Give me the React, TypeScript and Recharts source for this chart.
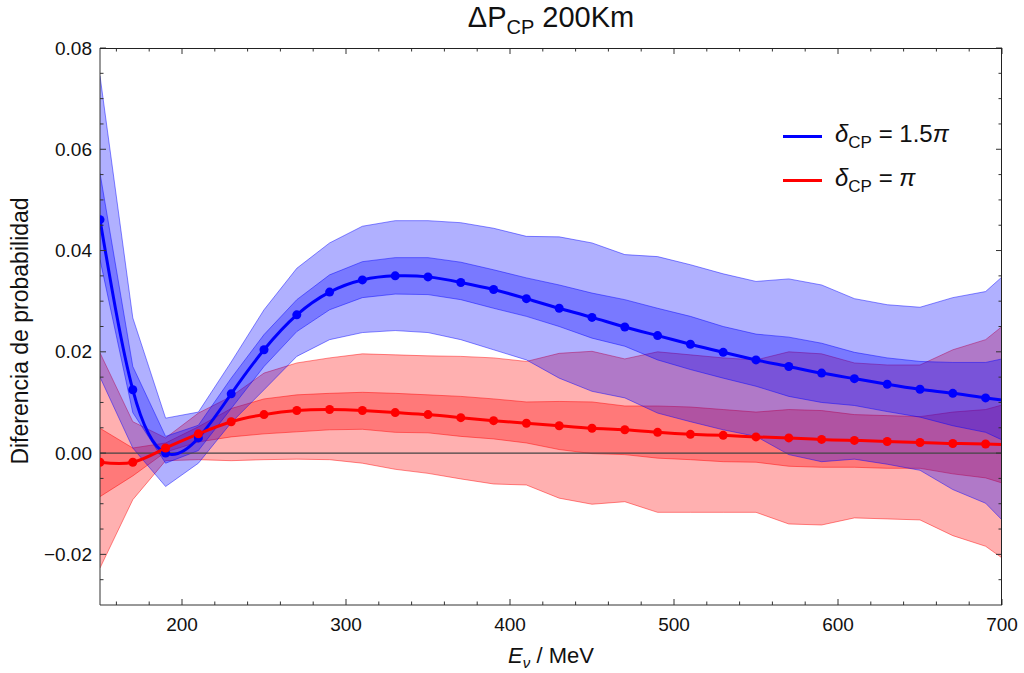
import React from "react";
import { ComposedChart, Area, Line, XAxis, YAxis, ReferenceLine } from "recharts";

// energies (MeV) where the curves / bands were sampled
const energy = [150, 170, 190, 210, 230, 250, 270, 290, 310, 330, 350, 370, 390, 410, 430, 450, 470, 490, 510, 530, 550, 570, 590, 610, 630, 650, 670, 690, 700];

// delta_CP = 1.5 pi
const blueMid = [0.0461, 0.0125, 0.0, 0.003, 0.0117, 0.0204, 0.0273, 0.0318, 0.0342, 0.035, 0.0348, 0.0337, 0.0323, 0.0305, 0.0286, 0.0268, 0.0249, 0.0232, 0.0215, 0.0199, 0.0184, 0.0171, 0.0158, 0.0147, 0.0136, 0.0126, 0.0118, 0.0109, 0.0105];
const blueInnerHi = [0.0553, 0.0171, 0.0033, 0.0055, 0.0148, 0.0234, 0.0303, 0.0352, 0.0378, 0.0386, 0.0386, 0.0377, 0.0362, 0.0346, 0.0332, 0.0316, 0.0303, 0.0286, 0.027, 0.025, 0.0235, 0.0229, 0.0217, 0.0199, 0.0188, 0.0181, 0.0179, 0.0179, 0.0186];
const blueInnerLo = [0.0382, 0.008, -0.002, 0.0005, 0.0088, 0.0171, 0.024, 0.0283, 0.0307, 0.0314, 0.0313, 0.0303, 0.0286, 0.027, 0.025, 0.0227, 0.0211, 0.0184, 0.0165, 0.0148, 0.0132, 0.0112, 0.01, 0.0094, 0.0082, 0.0071, 0.0054, 0.0041, 0.0026];
const blueOuterHi = [0.0745, 0.0267, 0.0069, 0.0081, 0.018, 0.0283, 0.0365, 0.0415, 0.0448, 0.0459, 0.0459, 0.0455, 0.0444, 0.0428, 0.0427, 0.0415, 0.0392, 0.0388, 0.0372, 0.0354, 0.0339, 0.0344, 0.0332, 0.0305, 0.0293, 0.0288, 0.0307, 0.0319, 0.0348];
const blueOuterLo = [0.015, 0.001, -0.0066, -0.002, 0.006, 0.0125, 0.0191, 0.0224, 0.0238, 0.0242, 0.0238, 0.0224, 0.0204, 0.0184, 0.0148, 0.0122, 0.0109, 0.0079, 0.0062, 0.0046, 0.0033, -0.0003, -0.0017, -0.0012, -0.0022, -0.0034, -0.0072, -0.0099, -0.0132];

// delta_CP = pi
const redMid = [-0.0018, -0.0018, 0.001, 0.0038, 0.0062, 0.0076, 0.0084, 0.0086, 0.0084, 0.008, 0.0076, 0.007, 0.0064, 0.0059, 0.0054, 0.0049, 0.0046, 0.0041, 0.0037, 0.0035, 0.0032, 0.003, 0.0027, 0.0025, 0.0023, 0.0021, 0.0019, 0.0018, 0.0017];
const redInnerHi = [0.0049, 0.001, 0.002, 0.0052, 0.0088, 0.0107, 0.0115, 0.0118, 0.012, 0.0118, 0.0115, 0.0112, 0.0107, 0.0101, 0.0102, 0.0101, 0.0093, 0.0093, 0.0091, 0.0086, 0.0081, 0.0086, 0.0084, 0.0076, 0.0074, 0.0072, 0.0081, 0.0086, 0.0095];
const redInnerLo = [-0.0086, -0.0045, 0.0002, 0.0022, 0.0032, 0.0038, 0.0042, 0.0046, 0.0047, 0.0041, 0.004, 0.0033, 0.0028, 0.002, 0.0007, -0.0001, -0.0003, -0.001, -0.0013, -0.0017, -0.0018, -0.0026, -0.0028, -0.0028, -0.003, -0.003, -0.0041, -0.0049, -0.0059];
const redOuterHi = [0.0198, 0.0062, 0.003, 0.0079, 0.0112, 0.0158, 0.0178, 0.0188, 0.0196, 0.0194, 0.0192, 0.0191, 0.0188, 0.0181, 0.0197, 0.0201, 0.0186, 0.02, 0.0194, 0.0188, 0.0184, 0.02, 0.0196, 0.0178, 0.0174, 0.0174, 0.0204, 0.0224, 0.025];
const redOuterLo = [-0.0227, -0.0092, -0.0015, -0.0013, -0.0015, -0.0013, -0.0012, -0.0013, -0.002, -0.0032, -0.004, -0.0051, -0.0061, -0.0063, -0.0089, -0.0101, -0.0096, -0.0117, -0.0117, -0.0117, -0.0117, -0.014, -0.0142, -0.0128, -0.013, -0.0132, -0.0163, -0.0184, -0.0207];

const xTicks = [160, 180, 200, 220, 240, 260, 280, 300, 320, 340, 360, 380, 400, 420, 440, 460, 480, 500, 520, 540, 560, 580, 600, 620, 640, 660, 680, 700];
const yTicks = [-0.025, -0.02, -0.015, -0.01, -0.005, 0, 0.005, 0.01, 0.015, 0.02, 0.025, 0.03, 0.035, 0.04, 0.045, 0.05, 0.055, 0.06, 0.065, 0.07, 0.075, 0.08];

const data = energy.map((E, i) => ({
  E,
  blue: blueMid[i],
  blueInner: [blueInnerLo[i], blueInnerHi[i]],
  blueOuter: [blueOuterLo[i], blueOuterHi[i]],
  red: redMid[i],
  redInner: [redInnerLo[i], redInnerHi[i]],
  redOuter: [redOuterLo[i], redOuterHi[i]],
}));

const FONT = '"Liberation Sans", Arial, sans-serif';
const FRAME = "#333";
const BLUE = "#0000ff";
const RED = "#ff0000";

// plot box follows from the chart size and margins below
const W = 1024;
const H = 673;
const M = { top: 48, right: 22, bottom: 0, left: 0 };
const X_AXIS_H = 68;
const Y_AXIS_W = 100;
const PLOT_W = W - M.right - Y_AXIS_W;
const PLOT_H = H - M.top - X_AXIS_H;

const majorX = (v: number) => v % 100 === 0;
const majorY = (v: number) => Math.abs(v * 50 - Math.round(v * 50)) < 1e-6;
const fmtY = (v: number) => (v < -1e-9 ? "\u2212" + Math.abs(v).toFixed(2) : Math.abs(v).toFixed(2));

// bottom ticks, mirrored onto the top edge of the frame
const BottomTick = ({ x, y, payload }: any) => {
  const v = payload.value;
  const len = majorX(v) ? 6 : 3.5;
  return (
    <g>
      <line x1={x} x2={x} y1={y} y2={y - len} stroke={FRAME} />
      <line x1={x} x2={x} y1={y - PLOT_H} y2={y - PLOT_H + len} stroke={FRAME} />
      {majorX(v) && (
        <text x={x} y={y + 26} textAnchor="middle" fontSize={19} fontFamily={FONT} fill="#111">
          {v}
        </text>
      )}
    </g>
  );
};

// left ticks, mirrored onto the right edge
const LeftTick = ({ x, y, payload }: any) => {
  const v = payload.value;
  const len = majorY(v) ? 6 : 3.5;
  return (
    <g>
      <line x1={x} x2={x + len} y1={y} y2={y} stroke={FRAME} />
      <line x1={x + PLOT_W} x2={x + PLOT_W - len} y1={y} y2={y} stroke={FRAME} />
      {majorY(v) && (
        <text x={x - 8} y={y} textAnchor="end" dominantBaseline="central" fontSize={19} fontFamily={FONT} fill="#111">
          {fmtY(v)}
        </text>
      )}
    </g>
  );
};

const makeDot = (color: string) => (p: any) => {
  const { cx, cy, payload, index } = p;
  if (cx == null || payload.E > 690) return <g key={`n-${index}`} />;
  return <circle key={`d-${index}`} cx={cx} cy={cy} r={4.5} fill={color} stroke="none" />;
};

const LegendRow = ({ color, top, value }: { color: string; top: number; value: string }) => (
  <div style={{ position: "absolute", left: 783, top: top - 15, height: 30, display: "flex", alignItems: "center" }}>
    <div style={{ width: 39, height: 3, background: color }} />
    <div style={{ marginLeft: 13, fontSize: 24, fontFamily: FONT, color: "#111", whiteSpace: "nowrap" }}>
      <i>δ</i>
      <sub style={{ fontSize: 17 }}>CP</sub> = {value}
      <i>π</i>
    </div>
  </div>
);

export default function App() {
  return (
    <div style={{ position: "absolute", left: 0, top: 0, width: W, height: H, background: "#fff" }}>
      <ComposedChart width={W} height={H} data={data} margin={M}>
        <XAxis
          dataKey="E"
          type="number"
          domain={[150, 700]}
          ticks={xTicks}
          interval={0}
          allowDataOverflow
          height={X_AXIS_H}
          tickSize={0}
          tickMargin={0}
          tickLine={false}
          axisLine={{ stroke: FRAME }}
          tick={(p: any) => <BottomTick {...p} />}
        />
        <YAxis
          type="number"
          domain={[-0.03, 0.08]}
          ticks={yTicks}
          interval={0}
          allowDataOverflow
          width={Y_AXIS_W}
          tickSize={0}
          tickMargin={0}
          tickLine={false}
          axisLine={{ stroke: FRAME }}
          tick={(p: any) => <LeftTick {...p} />}
        />
        <Area type="linear" dataKey="redOuter" fill={RED} fillOpacity={0.31} stroke={RED} strokeOpacity={0.45} strokeWidth={1} isAnimationActive={false} />
        <Area type="linear" dataKey="redInner" fill={RED} fillOpacity={0.31} stroke={RED} strokeOpacity={0.45} strokeWidth={1} isAnimationActive={false} />
        <Area type="linear" dataKey="blueOuter" fill={BLUE} fillOpacity={0.31} stroke={BLUE} strokeOpacity={0.45} strokeWidth={1} isAnimationActive={false} />
        <Area type="linear" dataKey="blueInner" fill={BLUE} fillOpacity={0.31} stroke={BLUE} strokeOpacity={0.45} strokeWidth={1} isAnimationActive={false} />
        <ReferenceLine y={0} stroke="#444" strokeWidth={1.2} />
        <Line type="natural" dataKey="blue" stroke={BLUE} strokeWidth={3} dot={makeDot(BLUE)} activeDot={false} isAnimationActive={false} />
        <Line type="natural" dataKey="red" stroke={RED} strokeWidth={3} dot={makeDot(RED)} activeDot={false} isAnimationActive={false} />
      </ComposedChart>

      {/* top and right edges of the frame */}
      <div
        style={{
          position: "absolute",
          left: Y_AXIS_W,
          top: M.top,
          width: PLOT_W,
          height: PLOT_H,
          boxSizing: "border-box",
          borderTop: "1px solid #222",
          borderRight: "1px solid #222",
          pointerEvents: "none",
        }}
      />

      <div style={{ position: "absolute", left: 551, top: 20, transform: "translate(-50%, -50%)", fontSize: 29, fontFamily: FONT, color: "#111", whiteSpace: "nowrap" }}>
        ΔP<sub style={{ fontSize: 20 }}>CP</sub> 200Km
      </div>

      <LegendRow color={BLUE} top={136} value="1.5" />
      <LegendRow color={RED} top={180} value="" />

      <div style={{ position: "absolute", left: 551, top: 657, transform: "translate(-50%, -50%)", fontSize: 22, fontFamily: FONT, color: "#111", whiteSpace: "nowrap" }}>
        <i>E</i>
        <sub style={{ fontSize: 15 }}>
          <i>ν</i>
        </sub>{" "}
        / MeV
      </div>

      <div style={{ position: "absolute", left: 20, top: 331, transform: "translate(-50%, -50%) rotate(-90deg)", fontSize: 23, fontFamily: FONT, color: "#111", whiteSpace: "nowrap" }}>
        Diferencia de probabilidad
      </div>
    </div>
  );
}
